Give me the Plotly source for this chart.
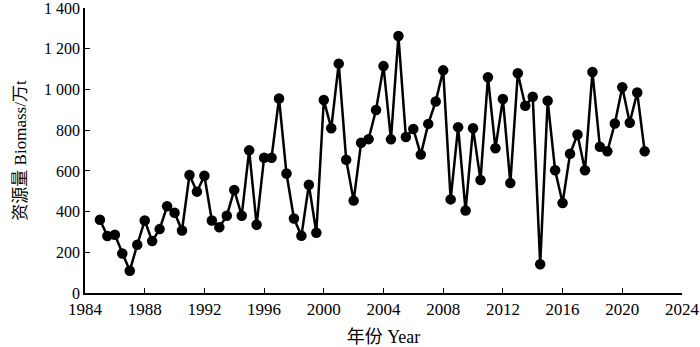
import plotly.graph_objects as go

start_year = 1985.0
step = 0.5
biomass = [360, 280, 286, 194, 109, 237, 356, 255, 314, 426,
           394, 307, 580, 498, 576, 356, 323, 380, 506, 380,
           701, 335, 665, 665, 956, 587, 366, 281, 532, 296,
           948, 810, 1127, 655, 454, 738, 756, 899, 1115, 755,
           1263, 767, 806, 680, 831, 941, 1094, 460, 815, 405,
           810, 555, 1060, 711, 953, 540, 1080, 920, 964, 141,
           945, 603, 442, 684, 779, 603, 1086, 719, 696, 833,
           1011, 837, 985, 696]
years = [start_year + step * i for i in range(len(biomass))]

x_ticks = [1984, 1988, 1992, 1996, 2000, 2004, 2008, 2012, 2016, 2020, 2024]
y_ticks = [0, 200, 400, 600, 800, 1000, 1200, 1400]
y_ticktext = ["0", "200", "400", "600", "800", "1 000", "1 200", "1 400"]

font_family = "'Liberation Serif', 'Noto Sans CJK SC', serif"

fig = go.Figure()
fig.add_trace(go.Scatter(
    x=years, y=biomass, mode="lines+markers",
    line=dict(color="black", width=2.5),
    marker=dict(color="black", size=10.5),
    showlegend=False, cliponaxis=False,
))

fig.update_layout(
    width=700, height=347,
    margin=dict(l=85, r=18, t=8, b=54, autoexpand=False),
    paper_bgcolor="white", plot_bgcolor="white",
    font=dict(family=font_family, size=17, color="black"),
)
fig.update_xaxes(
    range=[1984, 2024.001], tickvals=x_ticks, ticktext=[str(t) for t in x_ticks],
    ticks="inside", ticklen=5, tickwidth=1.2, tickcolor="black",
    showline=True, linecolor="black", linewidth=1.5,
    showgrid=False, zeroline=False, automargin=False,
    ticklabeloverflow="allow",
    tickfont=dict(family=font_family, size=17),
    title=dict(text="年份 Year", font=dict(family=font_family, size=18), standoff=15),
)
fig.update_yaxes(
    range=[0, 1400.5], tickvals=y_ticks, ticktext=y_ticktext,
    ticks="inside", ticklen=5, tickwidth=1.2, tickcolor="black",
    showline=True, linecolor="black", linewidth=1.5,
    showgrid=False, zeroline=False, automargin=False,
    ticklabeloverflow="allow",
    tickfont=dict(family=font_family, size=16),
    title=dict(text="资源量 Biomass/万t", font=dict(family=font_family, size=17), standoff=13),
)

fig.write_html("out.html", config={"displayModeBar": False},
               post_script="document.body.style.margin='0';")
